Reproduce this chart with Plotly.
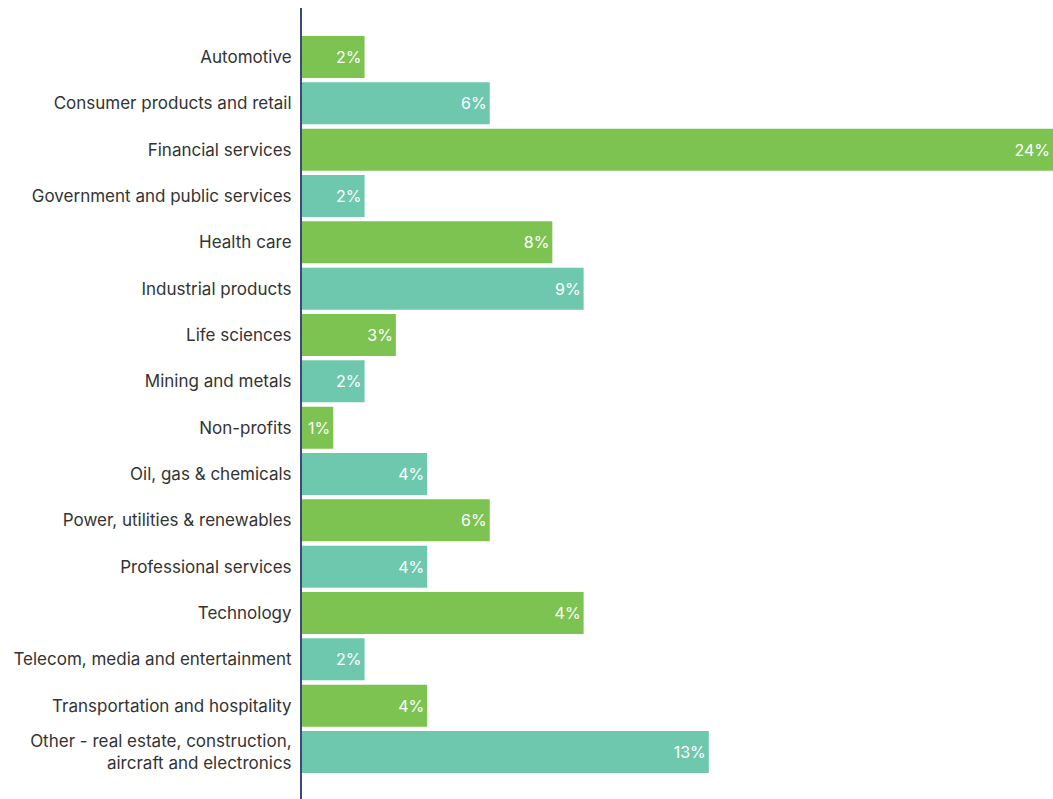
import plotly.graph_objects as go

categories = [
    "Automotive",
    "Consumer products and retail",
    "Financial services",
    "Government and public services",
    "Health care",
    "Industrial products",
    "Life sciences",
    "Mining and metals",
    "Non-profits",
    "Oil, gas & chemicals",
    "Power, utilities & renewables",
    "Professional services",
    "Technology",
    "Telecom, media and entertainment",
    "Transportation and hospitality",
    "Other - real estate, construction,<br>aircraft and electronics",
]
values = [2, 6, 24, 2, 8, 9, 3, 2, 1, 4, 6, 4, 9, 2, 4, 13]
value_labels = ["2%", "6%", "24%", "2%", "8%", "9%", "3%", "2%", "1%", "4%",
                "6%", "4%", "4%", "2%", "4%", "13%"]

GREEN = "#7DC352"
TEAL = "#6EC8AE"
colors = [GREEN if i % 2 == 0 else TEAL for i in range(len(categories))]

FONT = "Inter, Roboto, sans-serif"

fig = go.Figure(go.Bar(
    x=values,
    y=categories,
    orientation="h",
    marker=dict(color=colors, line=dict(width=0)),
    text=value_labels,
    textposition="inside",
    insidetextanchor="end",
    textangle=0,
    constraintext="none",
    textfont=dict(family=FONT, size=16, color="white"),
    hoverinfo="skip",
))

fig.update_layout(
    width=1053,
    height=799,
    margin=dict(l=302, r=0, t=8, b=0),
    paper_bgcolor="white",
    plot_bgcolor="white",
    bargap=0.093,
    showlegend=False,
    font=dict(family=FONT, size=17, color="#333333"),
)
fig.update_xaxes(range=[0, 24], visible=False, showgrid=False, zeroline=False)
fig.update_yaxes(
    range=[16.014, -1.058],
    showgrid=False,
    zeroline=False,
    showline=True,
    linecolor="#3B4A78",
    linewidth=2,
    ticks="",
    ticklabelstandoff=5,
    tickfont=dict(family=FONT, size=17, color="#333333"),
)

fig.write_html(
    "out.html",
    config={"displayModeBar": False},
    post_script="document.body.style.margin='0';document.body.style.overflow='hidden';",
)
